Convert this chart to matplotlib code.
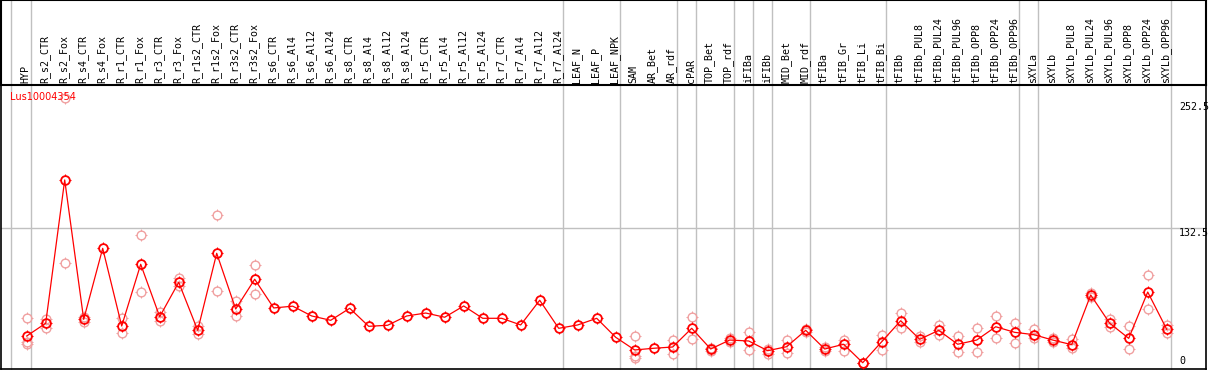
import matplotlib
matplotlib.use("Agg")
import matplotlib.pyplot as plt
from matplotlib.path import Path
import numpy as np

samples = ["HYP", "R_s2_CTR", "R_s2_Fox", "R_s4_CTR", "R_s4_Fox", "R_r1_CTR", "R_r1_Fox",
           "R_r3_CTR", "R_r3_Fox", "R_r1s2_CTR", "R_r1s2_Fox", "R_r3s2_CTR", "R_r3s2_Fox",
           "R_s6_CTR", "R_s6_Al4", "R_s6_Al12", "R_s6_Al24", "R_s8_CTR", "R_s8_Al4", "R_s8_Al12",
           "R_s8_Al24", "R_r5_CTR", "R_r5_Al4", "R_r5_Al12", "R_r5_Al24", "R_r7_CTR", "R_r7_Al4",
           "R_r7_Al12", "R_r7_Al24", "LEAF_N", "LEAF_P", "LEAF_NPK", "SAM", "AR_Bet", "AR_rdf",
           "cPAR", "TOP_Bet", "TOP_rdf", "iFIBa", "iFIBb", "MID_Bet", "MID_rdf", "tFIBa",
           "tFIB_Gr", "tFIB_Li", "tFIB_Bi", "tFIBb", "tFIBb_PUL8", "tFIBb_PUL24", "tFIBb_PUL96",
           "tFIBb_OPP8", "tFIBb_OPP24", "tFIBb_OPP96", "sXYLa", "sXYLb", "sXYLb_PUL8",
           "sXYLb_PUL24", "sXYLb_PUL96", "sXYLb_OPP8", "sXYLb_OPP24", "sXYLb_OPP96"]

mean_values = [30.4, 42.5, 178.3, 46.2, 113.5, 39.9, 98.4, 48.7, 81.3, 35.8, 108.8, 56.0, 84.2,
               57.0, 58.7, 49.4, 45.3, 56.7, 39.6, 40.6, 49.4, 52.2, 48.2, 58.9, 47.2, 47.2, 40.9,
               64.3, 37.7, 40.9, 47.2, 29.2, 17.2, 18.8, 20.0, 37.7, 18.1, 26.6, 25.7, 16.5, 20.3,
               35.8, 18.1, 22.6, 5.1, 25.0, 44.9, 27.3, 35.8, 22.6, 26.6, 39.2, 33.9, 31.7, 26.6,
               22.2, 69.3, 42.5, 28.2, 72.1, 36.8]

replicates = [[47.5, 25.0, 23.1], [46.8, 37.7], [99.3, 256.0], [48.0, 44.0], [], [47.2, 33.0],
              [125.9, 71.8], [53.5, 45.0], [85.1, 78.0], [40.2, 32.0], [144.8, 72.8], [63.6, 49.1],
              [97.4, 70.0], [], [], [], [], [], [], [], [], [], [], [], [], [], [], [], [], [], [],
              [], [30.4, 11.5, 9.9], [], [26.6, 13.1], [48.2, 27.3], [19.5, 16.5], [28.2, 25.0],
              [34.2, 17.2], [18.4, 13.4], [26.6, 14.6], [33.9, 37.5], [20.0, 16.0], [26.6, 16.5],
              [5.1, 5.1], [31.4, 16.9], [52.2, 38.3], [30.4, 25.0], [40.9, 31.7], [30.1, 15.5],
              [37.7, 15.0], [49.1, 28.8], [42.5, 24.1], [37.1, 28.2], [28.2, 25.0], [27.3, 18.8],
              [71.5, 67.5], [46.3, 39.2], [39.6, 17.8], [88.2, 55.7], [40.9, 33.6]]

group_ends = [0, 28, 31, 34, 35, 37, 38, 39, 41, 45, 52, 53, 60]
y_ticks = [252.5, 132.5, 0]
gene_name = "Lus10004354"

W, H = 1209, 370
fig = plt.figure(figsize=(W / 100, H / 100), dpi=100)
fig.patch.set_facecolor("white")

ax = fig.add_axes([1 / W, 1 / H, 1205 / W, 284 / H])
ax.set_xlim(-1.3526, 62.068)
ax.set_ylim(-0.85, 268.3)
ax.set_xticks([])
ax.set_yticks([])
for s in ax.spines.values():
    s.set_color("black")
    s.set_linewidth(1.2)

hdr = fig.add_axes([1 / W, 285 / H, 1205 / W, 85 / H])
hdr.set_xlim(ax.get_xlim())
hdr.set_ylim(0, 1)
hdr.set_xticks([])
hdr.set_yticks([])
hdr.patch.set_alpha(0)
for s in hdr.spines.values():
    s.set_color("black")
    s.set_linewidth(1.5)

grey = "#c0c0c0"
top_frac = 369 / 284
ax.axvline(-0.842, 0, top_frac, color=grey, lw=1, clip_on=False, zorder=0)
for g in group_ends:
    ax.axvline(g + 0.21, 0, top_frac, color=grey, lw=1, clip_on=False, zorder=0)
ax.axhline(y_ticks[1], color=grey, lw=1, zorder=0)

# four short stubs around the circle markers
stub_verts = [(0, 1), (0, 1.3), (0, -1), (0, -1.3), (1, 0), (1.3, 0), (-1, 0), (-1.3, 0)]
stub_codes = [Path.MOVETO, Path.LINETO] * 4
stubs = Path(stub_verts, stub_codes)

circ_size = 6.3
stub_size = circ_size * 1.3

x = np.arange(len(samples))
rx = [i for i, reps in enumerate(replicates) for _ in reps]
ry = [v for reps in replicates for v in reps]
pink = "#f0a0a0"
for mk, ms, mw in (("o", circ_size, 1.0), (stubs, stub_size, 0.7)):
    ax.plot(rx, ry, linestyle="none", marker=mk, markersize=ms, markerfacecolor="none",
            markeredgecolor=pink, markeredgewidth=mw, clip_on=False, zorder=2)
ax.plot(x, mean_values, color="red", lw=0.9, zorder=3)
for mk, ms, mw in (("o", circ_size, 1.3), (stubs, stub_size, 0.8)):
    ax.plot(x, mean_values, linestyle="none", marker=mk, markersize=ms, markerfacecolor="none",
            markeredgecolor="red", markeredgewidth=mw, zorder=4)

mono = "DejaVu Sans Mono"
tr = ax.get_xaxis_transform()
for i, lab in enumerate(samples):
    ax.text(i - 0.05, (369 - 83.3) / 284, lab, rotation=90, ha="center", va="bottom",
            fontsize=7.2, family=mono, color="black", transform=tr, clip_on=False)

ax.text(0.0075, (369 - 97.5) / 284, gene_name, color="red", fontsize=7, family="DejaVu Sans",
        ha="left", va="center", transform=ax.transAxes, zorder=5)

ytr = ax.get_yaxis_transform()
lx = (1179 - 1) / 1205
for v in y_ticks:
    if v == 0:
        ax.text(lx, 2.0, "0", ha="left", va="bottom", fontsize=7.2, family=mono, transform=ytr)
    else:
        ax.text(lx, v, f"{v:g}", ha="left", va="top", fontsize=7.2, family=mono, transform=ytr)

fig.savefig("out.png", dpi=100, facecolor="white")
